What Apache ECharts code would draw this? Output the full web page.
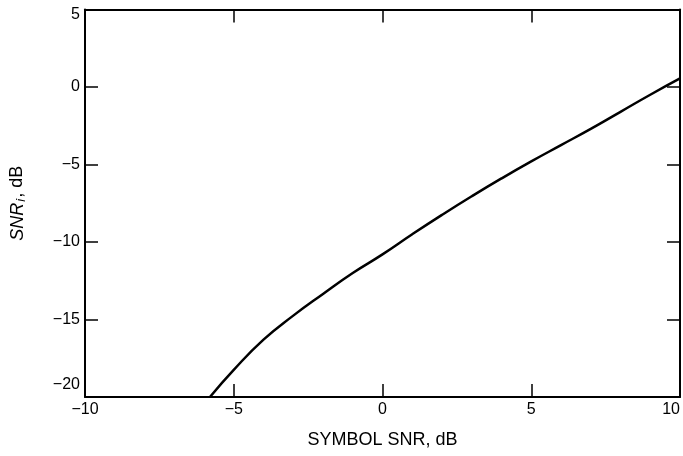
<!DOCTYPE html>
<html>
<head>
<meta charset="utf-8">
<script src="https://cdn.jsdelivr.net/npm/echarts@6/dist/echarts.min.js"></script>
<style>html,body{margin:0;padding:0;background:#fff}#c{width:683px;height:456px}</style>
</head>
<body>
<div id="c"></div>
<script>
const symbolSnr = [-5.8, -5, -4, -3, -2, -1, 0, 1, 2, 3, 4, 5, 6, 7, 8, 9, 10];
const snrI      = [-20, -18.25, -16.3, -14.75, -13.35, -12.0, -10.8, -9.5, -8.25, -7.05, -5.9, -4.8, -3.75, -2.7, -1.6, -0.5, 0.55];
const xTicks = [-10, -5, 0, 5, 10];
const yTicks = [-20, -15, -10, -5, 0, 5];

const FONT = '"Liberation Sans", Arial, sans-serif';
const fmtNum = v => (v < 0 ? '\u2212' + Math.abs(v) : String(v));
const chart = echarts.init(document.getElementById('c'));
const axisLine = { show: true, onZero: false, lineStyle: { color: '#000', width: 2 } };
const tick = { show: true, inside: true, length: 13, lineStyle: { color: '#000', width: 1.5 } };
chart.setOption({
  animation: false,
  backgroundColor: '#fff',
  grid: { left: 85, right: 2, top: 9.5, bottom: 59, containLabel: false },
  xAxis: [{
    type: 'value', min: xTicks[0], max: xTicks[xTicks.length - 1], interval: 5, position: 'bottom',
    axisLine, axisTick: tick, splitLine: { show: false },
    axisLabel: { margin: 5, color: '#000', fontSize: 16, fontFamily: FONT, formatter: fmtNum, alignMaxLabel: 'right' },
    name: 'SYMBOL SNR, dB', nameLocation: 'middle', nameGap: 34,
    nameTextStyle: { color: '#000', fontSize: 18, fontFamily: FONT }
  }, {
    type: 'value', min: xTicks[0], max: xTicks[xTicks.length - 1], interval: 5, position: 'top',
    axisLine, axisTick: tick, axisLabel: { show: false }, splitLine: { show: false }
  }],
  yAxis: [{
    type: 'value', min: yTicks[0], max: yTicks[yTicks.length - 1], interval: 5, position: 'left',
    axisLine, axisTick: tick, splitLine: { show: false },
    axisLabel: {
      margin: 5, color: '#000', fontSize: 16, fontFamily: FONT,
      formatter: v => v === -20 ? '{lo|' + fmtNum(v) + '}' : (v === 5 ? '{hi|' + fmtNum(v) + '}' : fmtNum(v)),
      rich: {
        lo: { fontSize: 16, fontFamily: FONT, color: '#000', padding: [0, 0, 24, 0] },
        hi: { fontSize: 16, fontFamily: FONT, color: '#000', padding: [11, 0, 0, 0] }
      }
    },
    name: '{it|SNR}{sub|i}{n|, dB}', nameLocation: 'middle', nameGap: 57,
    nameTextStyle: {
      color: '#000', fontSize: 18, fontFamily: FONT,
      rich: {
        it: { fontSize: 18, fontStyle: 'italic', fontFamily: FONT, color: '#000' },
        sub: { fontSize: 13, fontStyle: 'italic', fontFamily: FONT, color: '#000', padding: [8, 1, 0, 1] },
        n: { fontSize: 18, fontFamily: FONT, color: '#000' }
      }
    }
  }, {
    type: 'value', min: yTicks[0], max: yTicks[yTicks.length - 1], interval: 5, position: 'right',
    axisLine, axisTick: tick, axisLabel: { show: false }, splitLine: { show: false }
  }],
  series: [{
    type: 'line', xAxisIndex: 0, yAxisIndex: 0,
    data: symbolSnr.map((x, i) => [x, snrI[i]]),
    smooth: 0.5, showSymbol: false, clip: true,
    lineStyle: { color: '#000', width: 2.5 }
  }]
});
</script>
</body>
</html>
